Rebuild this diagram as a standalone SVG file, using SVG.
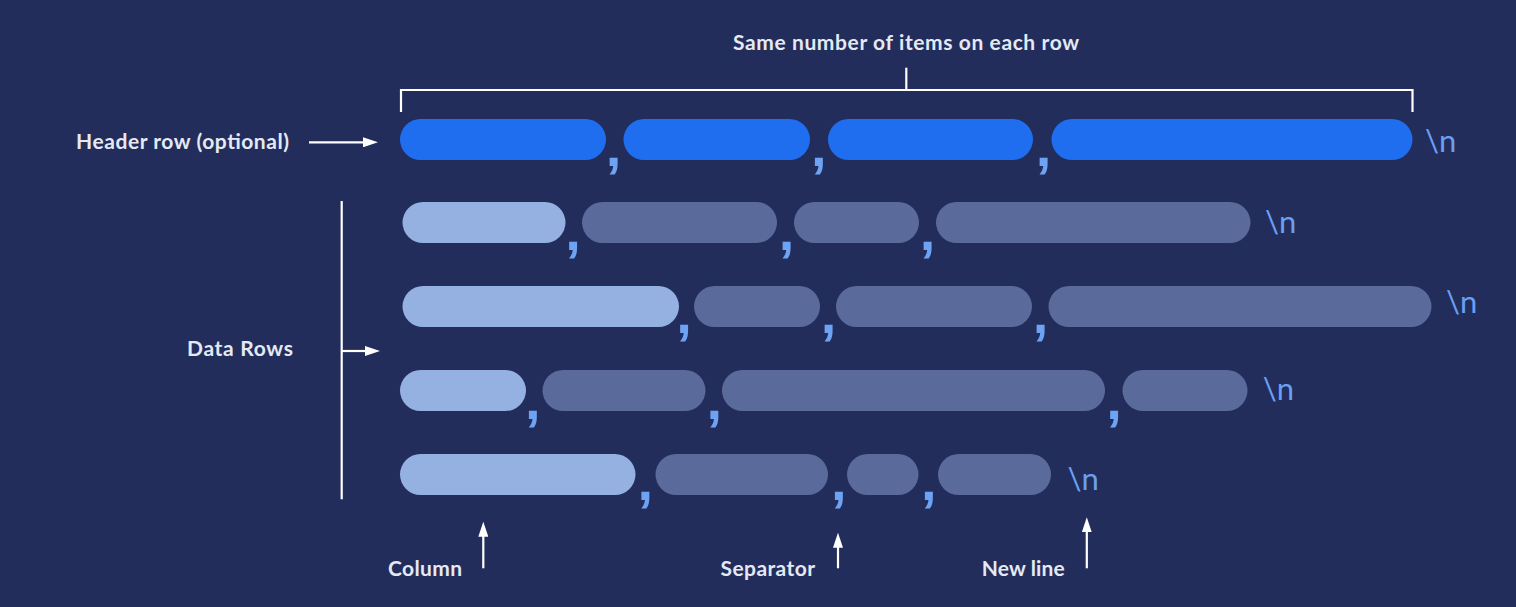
<svg xmlns="http://www.w3.org/2000/svg" width="1516" height="607" viewBox="0 0 1516 607">
<defs>
<style>
.hdr{fill:#206ef0}
.lt{fill:#94b1e2}
.dk{fill:#5a6a9a}
.cm{font-family:"Liberation Sans",Arial,sans-serif;font-weight:700;font-size:56px;fill:#6ea2f3;text-anchor:middle}
.nl{font-family:Lato,"Noto Sans",sans-serif;font-weight:400;font-size:31px;fill:#6a9ff2}
.lb{font-family:Lato,"Noto Sans",sans-serif;font-weight:700;font-size:21px;fill:#e4e9f4}
.ln{stroke:#ffffff;stroke-width:2.2;fill:none}
</style>
<marker id="ah" viewBox="0 0 15 10" refX="7" refY="5" markerWidth="15" markerHeight="10" markerUnits="userSpaceOnUse" orient="auto">
<path d="M0,0 L15,5 L0,10 z" fill="#ffffff"/>
</marker>
</defs>
<rect x="0" y="0" width="1516" height="607" fill="#232d5b"/>

<g id="title">
<text class="lb" x="733" y="50" textLength="346">Same number of items on each row</text>
</g>

<g id="header-row">
<rect class="hdr" x="400" y="119" width="206" height="41" rx="20.5"/>
<rect class="hdr" x="623.5" y="119" width="186.5" height="41" rx="20.5"/>
<rect class="hdr" x="828" y="119" width="205" height="41" rx="20.5"/>
<rect class="hdr" x="1051.5" y="119" width="361" height="41" rx="20.5"/>
<text class="cm" x="613.5" y="166">,</text>
<text class="cm" x="818.8" y="166">,</text>
<text class="cm" x="1043.5" y="166">,</text>
<text class="nl" x="1425" y="151.7">\n</text>
</g>

<g id="data-row-1">
<rect class="lt" x="402.5" y="202" width="163" height="41" rx="20.5"/>
<rect class="dk" x="582" y="202" width="195" height="41" rx="20.5"/>
<rect class="dk" x="794" y="202" width="125" height="41" rx="20.5"/>
<rect class="dk" x="936" y="202" width="314.5" height="41" rx="20.5"/>
<text class="cm" x="573" y="249.5">,</text>
<text class="cm" x="786.5" y="249.5">,</text>
<text class="cm" x="927.5" y="249.5">,</text>
<text class="nl" x="1265" y="233.3">\n</text>
</g>

<g id="data-row-2">
<rect class="lt" x="402.5" y="286" width="276.5" height="41" rx="20.5"/>
<rect class="dk" x="694" y="286" width="126" height="41" rx="20.5"/>
<rect class="dk" x="836" y="286" width="196" height="41" rx="20.5"/>
<rect class="dk" x="1048.5" y="286" width="383" height="41" rx="20.5"/>
<text class="cm" x="684" y="333">,</text>
<text class="cm" x="828.5" y="333">,</text>
<text class="cm" x="1040.5" y="333">,</text>
<text class="nl" x="1446" y="313.3">\n</text>
</g>

<g id="data-row-3">
<rect class="lt" x="400" y="370" width="126" height="41" rx="20.5"/>
<rect class="dk" x="542.5" y="370" width="163" height="41" rx="20.5"/>
<rect class="dk" x="722" y="370" width="383" height="41" rx="20.5"/>
<rect class="dk" x="1122.5" y="370" width="125" height="41" rx="20.5"/>
<text class="cm" x="532.7" y="418.5">,</text>
<text class="cm" x="714.3" y="418.5">,</text>
<text class="cm" x="1114" y="418.5">,</text>
<text class="nl" x="1262.7" y="400">\n</text>
</g>

<g id="data-row-4">
<rect class="lt" x="400" y="454" width="235.5" height="41" rx="20.5"/>
<rect class="dk" x="655.5" y="454" width="172.5" height="41" rx="20.5"/>
<rect class="dk" x="847" y="454" width="71.5" height="41" rx="20.5"/>
<rect class="dk" x="938" y="454" width="113" height="41" rx="20.5"/>
<text class="cm" x="645.3" y="500">,</text>
<text class="cm" x="838.7" y="500">,</text>
<text class="cm" x="928.7" y="500">,</text>
<text class="nl" x="1067.4" y="490">\n</text>
</g>

<g id="label-header">
<text class="lb" x="76" y="149" textLength="213">Header row (optional)</text>
</g>
<g id="label-data-rows">
<text class="lb" x="187" y="355.7" textLength="106">Data Rows</text>
</g>
<g id="label-column">
<text class="lb" x="388" y="575.7" textLength="74">Column</text>
</g>
<g id="label-separator">
<text class="lb" x="720.5" y="575.7" textLength="94.5">Separator</text>
</g>
<g id="label-newline">
<text class="lb" x="981.7" y="575.7" textLength="83">New line</text>
</g>

<g id="connectors">
<polyline class="ln" points="401,112 401,90 1412.5,90 1412.5,112"/>
<line class="ln" x1="906.3" y1="90" x2="906.3" y2="67.7"/>
<line class="ln" x1="309" y1="142.3" x2="370" y2="142.3" marker-end="url(#ah)"/>
<line class="ln" x1="341.7" y1="201" x2="341.7" y2="499.3"/>
<line class="ln" x1="341.7" y1="351" x2="372" y2="351" marker-end="url(#ah)"/>
<line class="ln" x1="483.3" y1="568.3" x2="483.3" y2="529.7" marker-end="url(#ah)"/>
<line class="ln" x1="838" y1="568.3" x2="838" y2="540.7" marker-end="url(#ah)"/>
<line class="ln" x1="1086.8" y1="568.3" x2="1086.8" y2="525.3" marker-end="url(#ah)"/>
</g>
</svg>
